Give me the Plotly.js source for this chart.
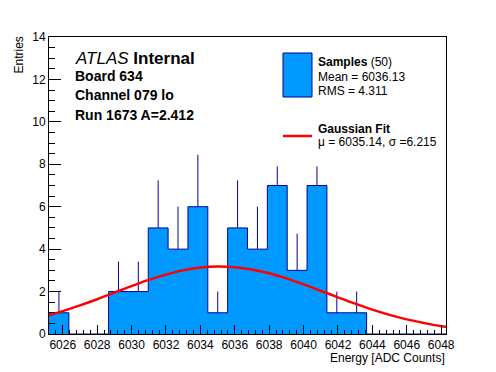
<!DOCTYPE html>
<html>
<head>
<meta charset="utf-8">
<script src="https://cdn.plot.ly/plotly-3.0.1.min.js"></script>
<style>html,body{margin:0;padding:0;background:#fff;}#chart{width:496px;height:372px;}</style>
</head>
<body>
<div id="chart"></div>
<script>
// ---- data ----
const binStart = 6025.2;
const binWidth = 1.154;
const counts = [1, 0, 0, 2, 2, 5, 4, 6, 1, 5, 4, 7, 3, 7, 1, 1, 0, 0, 0, 0];
const errUp  = [1, 0, 0, 1.41, 1.41, 2.24, 2, 2.45, 1, 2.24, 2, 0.9, 1.73, 0.9, 1, 1, 0, 0, 0, 0];
const fitX = [6025, 6026, 6027, 6028, 6029, 6030, 6031, 6032, 6033, 6034, 6035, 6036,
              6037, 6038, 6039, 6040, 6041, 6042, 6043, 6044, 6045, 6046, 6047, 6048, 6049];
const fitY = [0.84, 1.08, 1.35, 1.64, 1.95, 2.26, 2.55, 2.80, 3.00, 3.13, 3.18, 3.15,
              3.04, 2.86, 2.62, 2.34, 2.04, 1.73, 1.43, 1.15, 0.90, 0.69, 0.52, 0.37, 0.27];
const xTickVals = [6026, 6028, 6030, 6032, 6034, 6036, 6038, 6040, 6042, 6044, 6046, 6048];
const yTickVals = [0, 2, 4, 6, 8, 10, 12, 14];
const infoLines = ["<i>ATLAS</i> <b>Internal</b>", "<b>Board 634</b>", "<b>Channel 079 lo</b>", "<b>Run 1673 A=2.412</b>"];
const legendSamples = ["<b>Samples</b> (50)", "Mean = 6036.13", "RMS = 4.311"];
const legendFit = ["<b>Gaussian Fit</b>", "μ = 6035.14, σ =6.215"];

// ---- derived ----
const edges = [];
for (let i = 0; i <= counts.length; i++) edges.push(binStart + i * binWidth);
const stepY = counts.concat([counts[counts.length - 1]]);
const centers = counts.map((c, i) => binStart + (i + 0.5) * binWidth);
const xMax = edges[edges.length - 1];

const FONT = "Liberation Sans, Arial, Helvetica, sans-serif";
const navy = "#000099";
const blue = "#0099ff";

const traces = [
  { x: edges, y: stepY, type: "scatter", mode: "lines",
    line: { shape: "hv", color: navy, width: 1 },
    fill: "tozeroy", fillcolor: blue, hoverinfo: "skip", showlegend: false },
  { x: centers, y: counts, type: "scatter", mode: "markers",
    marker: { size: 0.1, color: navy, opacity: 0 },
    error_y: { type: "data", symmetric: false, array: errUp,
               arrayminus: counts.map(() => 0), color: navy, thickness: 1, width: 0 },
    showlegend: false, hoverinfo: "skip" },
  { x: fitX, y: fitY, type: "scatter", mode: "lines",
    line: { color: "#ff0000", width: 2.5, shape: "spline" }, showlegend: false, hoverinfo: "skip" }
];

// pixel -> paper helpers (plot area: x 49..446, y 37..334)
const L = 49, R = 446, T = 37, B = 334;
const px = v => (v - L) / (R - L);
const py = v => (B - v) / (B - T);

const annotations = [];
const infoY = [58, 76, 95, 115];
const infoSize = [17, 14, 14, 14];
infoLines.forEach((t, i) => annotations.push({
  xref: "paper", yref: "paper", x: px(73), y: py(infoY[i]), xanchor: "left", yanchor: "middle",
  text: t, showarrow: false, font: { family: FONT, size: infoSize[i], color: "#000" }
}));
const sampY = [62, 77, 91];
legendSamples.forEach((t, i) => annotations.push({
  xref: "paper", yref: "paper", x: px(316), y: py(sampY[i]), xanchor: "left", yanchor: "middle",
  text: t, showarrow: false, font: { family: FONT, size: 12, color: "#000" }
}));
const fitYpos = [129, 142];
legendFit.forEach((t, i) => annotations.push({
  xref: "paper", yref: "paper", x: px(316), y: py(fitYpos[i]), xanchor: "left", yanchor: "middle",
  text: t, showarrow: false, font: { family: FONT, size: 12, color: "#000" }
}));
annotations.push({
  xref: "paper", yref: "paper", x: px(19), y: py(34), xanchor: "center", yanchor: "top",
  text: "Entries", textangle: -90, showarrow: false, font: { family: FONT, size: 12, color: "#000" }
});
annotations.push({
  xref: "paper", yref: "paper", x: px(447), y: py(358), xanchor: "right", yanchor: "middle",
  text: "Energy [ADC Counts]", showarrow: false, font: { family: FONT, size: 12, color: "#000" }
});

const shapes = [
  { type: "rect", xref: "paper", yref: "paper", x0: px(283), x1: px(312), y0: py(53), y1: py(97),
    fillcolor: blue, line: { color: navy, width: 1 } },
  { type: "line", xref: "paper", yref: "paper", x0: px(283), x1: px(312), y0: py(136), y1: py(136),
    line: { color: "#ff0000", width: 2.5 } }
];

const layout = {
  width: 496, height: 372,
  margin: { l: L, r: 496 - R, t: T, b: 372 - B, pad: 0 },
  paper_bgcolor: "#fff", plot_bgcolor: "#fff",
  showlegend: false,
  font: { family: FONT, size: 12, color: "#000" },
  xaxis: {
    range: [binStart, xMax], tickmode: "array", tickvals: xTickVals,
    ticks: "inside", ticklen: 9, tickwidth: 1, tickcolor: "#000",
    minor: { dtick: 0.4, tick0: 6026, ticks: "inside", ticklen: 4.5, tickcolor: "#000", showgrid: false },
    showline: true, linecolor: "#000", linewidth: 1, mirror: true,
    showgrid: false, zeroline: false, automargin: false,
    tickfont: { family: FONT, size: 12, color: "#000" }
  },
  yaxis: {
    range: [0, 14], tickmode: "array", tickvals: yTickVals,
    ticks: "inside", ticklen: 12, tickwidth: 1, tickcolor: "#000",
    minor: { dtick: 0.5, ticks: "inside", ticklen: 6, tickcolor: "#000", showgrid: false },
    showline: true, linecolor: "#000", linewidth: 1, mirror: true,
    showgrid: false, zeroline: false, automargin: false,
    tickfont: { family: FONT, size: 12, color: "#000" }
  },
  annotations: annotations,
  shapes: shapes
};

Plotly.newPlot("chart", traces, layout, { staticPlot: true, displayModeBar: false });
</script>
</body>
</html>
